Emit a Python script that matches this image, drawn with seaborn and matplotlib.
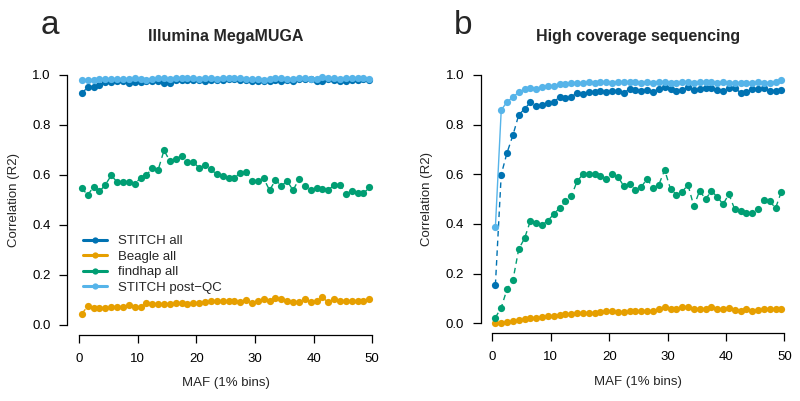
import numpy as np
import pandas as pd
import matplotlib
matplotlib.use("Agg")
import matplotlib.pyplot as plt
import seaborn as sns
from matplotlib.lines import Line2D


# 1. Data (MAF bins 0.5 .. 49.5)

maf = np.arange(50) + 0.5

# panel a - Illumina MegaMUGA
mega_stitch_all = [0.927, 0.951, 0.951, 0.961, 0.970, 0.972, 0.975, 0.974, 0.968, 0.972,
                   0.970, 0.974, 0.975, 0.977, 0.968, 0.968, 0.980, 0.978, 0.980, 0.980,
                   0.978, 0.977, 0.980, 0.981, 0.980, 0.983, 0.982, 0.981, 0.978, 0.977,
                   0.975, 0.977, 0.975, 0.980, 0.977, 0.978, 0.977, 0.983, 0.984, 0.983,
                   0.977, 0.975, 0.982, 0.981, 0.977, 0.977, 0.978, 0.980, 0.983, 0.980]
mega_beagle = [0.045, 0.074, 0.066, 0.066, 0.067, 0.070, 0.071, 0.072, 0.079, 0.072,
               0.070, 0.086, 0.084, 0.085, 0.084, 0.084, 0.087, 0.088, 0.084, 0.086,
               0.086, 0.093, 0.094, 0.094, 0.094, 0.094, 0.094, 0.093, 0.100, 0.086,
               0.094, 0.103, 0.094, 0.106, 0.103, 0.096, 0.093, 0.091, 0.104, 0.092,
               0.094, 0.110, 0.090, 0.103, 0.097, 0.094, 0.094, 0.094, 0.096, 0.104]
mega_findhap = [0.547, 0.519, 0.553, 0.534, 0.560, 0.598, 0.572, 0.572, 0.572, 0.564,
                0.588, 0.598, 0.628, 0.620, 0.698, 0.656, 0.665, 0.676, 0.653, 0.651,
                0.628, 0.639, 0.622, 0.602, 0.596, 0.588, 0.589, 0.608, 0.612, 0.576,
                0.577, 0.586, 0.538, 0.580, 0.556, 0.576, 0.538, 0.584, 0.557, 0.538,
                0.547, 0.545, 0.541, 0.558, 0.560, 0.525, 0.534, 0.529, 0.526, 0.550]
mega_stitch_qc = [0.981, 0.979, 0.979, 0.982, 0.983, 0.984, 0.983, 0.985, 0.982, 0.986,
                  0.982, 0.981, 0.984, 0.986, 0.987, 0.983, 0.988, 0.986, 0.986, 0.986,
                  0.984, 0.986, 0.987, 0.985, 0.988, 0.987, 0.986, 0.986, 0.984, 0.983,
                  0.982, 0.981, 0.983, 0.986, 0.986, 0.985, 0.985, 0.987, 0.987, 0.985,
                  0.984, 0.990, 0.987, 0.986, 0.985, 0.986, 0.986, 0.987, 0.988, 0.984]

# panel b - high coverage sequencing
seq_stitch_all = [0.154, 0.599, 0.687, 0.757, 0.839, 0.863, 0.890, 0.876, 0.879, 0.887,
                  0.892, 0.910, 0.906, 0.913, 0.926, 0.922, 0.933, 0.930, 0.937, 0.931,
                  0.934, 0.934, 0.927, 0.944, 0.941, 0.935, 0.938, 0.932, 0.944, 0.950,
                  0.945, 0.937, 0.940, 0.950, 0.940, 0.945, 0.949, 0.949, 0.941, 0.935,
                  0.946, 0.946, 0.929, 0.930, 0.944, 0.944, 0.948, 0.935, 0.935, 0.938]
seq_beagle = [0.000, 0.001, 0.004, 0.008, 0.012, 0.019, 0.022, 0.023, 0.027, 0.028,
              0.031, 0.035, 0.038, 0.038, 0.040, 0.043, 0.040, 0.040, 0.046, 0.048,
              0.048, 0.046, 0.046, 0.048, 0.048, 0.048, 0.051, 0.048, 0.059, 0.064,
              0.056, 0.059, 0.064, 0.067, 0.056, 0.059, 0.056, 0.064, 0.059, 0.056,
              0.061, 0.054, 0.051, 0.056, 0.051, 0.054, 0.056, 0.059, 0.056, 0.056]
seq_findhap = [0.023, 0.063, 0.138, 0.173, 0.299, 0.342, 0.413, 0.403, 0.396, 0.413,
               0.440, 0.464, 0.491, 0.511, 0.572, 0.600, 0.600, 0.600, 0.594, 0.582,
               0.600, 0.590, 0.552, 0.560, 0.538, 0.549, 0.582, 0.544, 0.558, 0.617,
               0.541, 0.518, 0.530, 0.557, 0.471, 0.534, 0.500, 0.532, 0.510, 0.479,
               0.520, 0.459, 0.453, 0.445, 0.444, 0.459, 0.495, 0.491, 0.464, 0.530]
seq_stitch_qc = [0.387, 0.858, 0.892, 0.910, 0.931, 0.942, 0.949, 0.945, 0.950, 0.957,
                 0.954, 0.965, 0.962, 0.966, 0.966, 0.968, 0.971, 0.968, 0.970, 0.970,
                 0.969, 0.970, 0.970, 0.971, 0.970, 0.969, 0.970, 0.968, 0.971, 0.970,
                 0.969, 0.968, 0.970, 0.971, 0.968, 0.970, 0.971, 0.970, 0.969, 0.970,
                 0.969, 0.966, 0.966, 0.967, 0.967, 0.970, 0.966, 0.969, 0.971, 0.978]

methods = ["STITCH all", "Beagle all", "findhap all", "STITCH post\u2212QC"]
colors = ["#0072B2", "#E69F00", "#009E73", "#56B4E9"]
dashes = [(0, (4, 3)), (0, (4, 3)), (0, (4, 3)), "-"]

panels = [
    ("a", "Illumina MegaMUGA", [mega_stitch_all, mega_beagle, mega_findhap, mega_stitch_qc]),
    ("b", "High coverage sequencing", [seq_stitch_all, seq_beagle, seq_findhap, seq_stitch_qc]),
]


# 2. Plot

sns.set_style("ticks")
plt.rcParams["font.family"] = ["Liberation Sans", "DejaVu Sans"]

fig = plt.figure(figsize=(8, 4.01), dpi=100)
axes_pos = [[0.084, 0.165, 0.396, 0.673], [0.601, 0.169, 0.394, 0.669]]

for (letter, title, series), pos in zip(panels, axes_pos):
    ax = fig.add_axes(pos)
    for name, vals, col, ls in zip(methods, series, colors, dashes):
        df = pd.DataFrame({"maf": maf, "r2": vals})
        sns.lineplot(data=df, x="maf", y="r2", ax=ax, color=col, linestyle=ls,
                     linewidth=1, marker="o", markersize=5.2, markeredgewidth=0)

    ax.set_xlim(-2, 52)
    ax.set_ylim(-0.04, 1.04)
    ax.set_xticks(range(0, 51, 10))
    ax.set_yticks([0.0, 0.2, 0.4, 0.6, 0.8, 1.0])
    ax.set_yticklabels(["0.0", "0.2", "0.4", "0.6", "0.8", "1.0"])
    sns.despine(ax=ax)
    ax.spines["left"].set_bounds(0, 1)
    ax.spines["bottom"].set_bounds(0, 50)
    for sp in ("left", "bottom"):
        ax.spines[sp].set_linewidth(0.9)
        ax.spines[sp].set_color("black")
    ax.tick_params(direction="out", length=6, width=0.9, labelsize=9.5,
                   colors="black", pad=6)
    ax.tick_params(axis="x", pad=7)
    ax.set_xlabel("MAF (1% bins)", fontsize=9.5, labelpad=9)
    ax.set_ylabel("Correlation (R2)", fontsize=9.5, labelpad=9)
    ax.set_title(title, fontsize=11.5, fontweight="bold", pad=17)
    ax.text(-0.055, 1.148, letter, transform=ax.transAxes, fontsize=24,
            ha="center", va="center")

    if letter == "a":
        handles = [Line2D([0], [0], color=c, lw=2.2, marker="o", markersize=4.5,
                          markeredgewidth=0) for c in colors]
        ax.legend(handles, methods, loc="lower left", bbox_to_anchor=(0.05, 0.152),
                  frameon=False, fontsize=9.5, handlelength=1.8, borderpad=0,
                  labelspacing=0.25, handletextpad=0.85, borderaxespad=0)

fig.savefig("out.png", dpi=100)
